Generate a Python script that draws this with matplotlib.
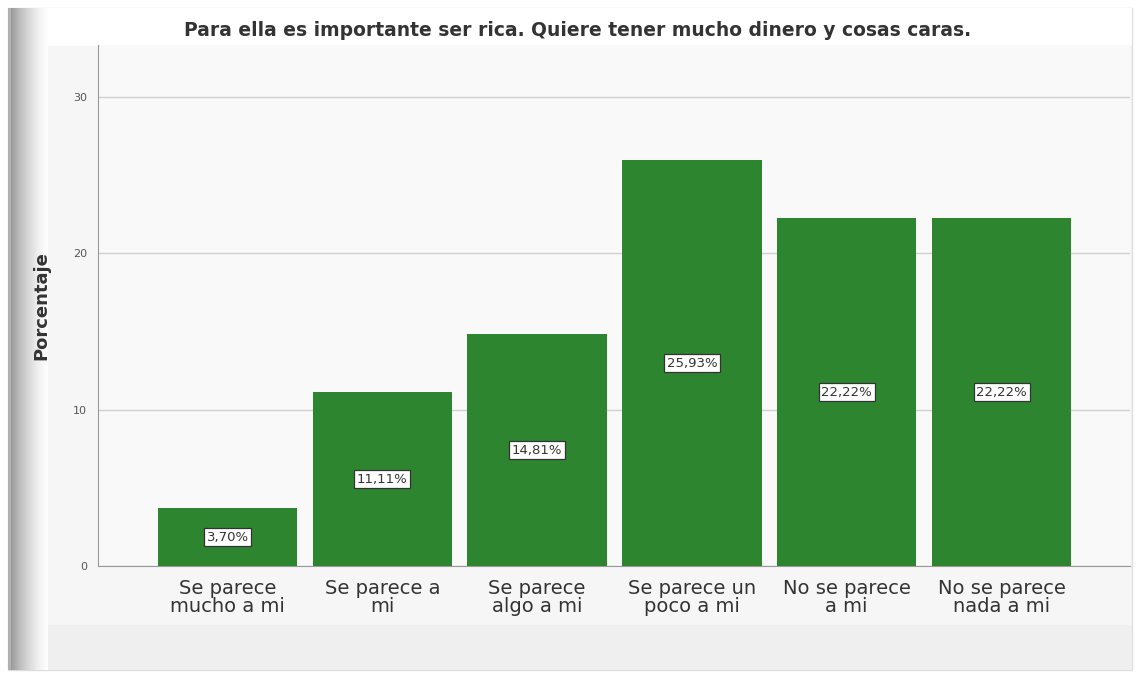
import numpy as np
import matplotlib.pyplot as plt
from matplotlib.patches import Rectangle

categorias = ["Se parece\nmucho a mi", "Se parece a\nmi", "Se parece\nalgo a mi",
              "Se parece un\npoco a mi", "No se parece\na mi", "No se parece\nnada a mi"]
porcentajes = [3.70, 11.11, 14.81, 25.93, 22.22, 22.22]
etiquetas = ["3,70%", "11,11%", "14,81%", "25,93%", "22,22%", "22,22%"]
ticks_y = [0, 10, 20, 30]

fig = plt.figure(figsize=(11.4, 6.79), dpi=100, facecolor="white")

# marco con sombra a la izquierda
fondo = fig.add_axes([0, 0, 1, 1], zorder=-10)
fondo.set_xlim(0, 1140)
fondo.set_ylim(679, 0)
fondo.axis("off")
fondo.add_patch(Rectangle((8, 8), 1124, 662, facecolor="#f6f6f6", edgecolor="#dddddd", lw=1, zorder=1))
grad = np.linspace(0, 1, 60).reshape(1, -1)
fondo.imshow(grad, extent=(10, 48, 670, 8), cmap="Greys_r", vmin=-1.0, vmax=1.0,
             aspect="auto", zorder=2)
fondo.add_patch(Rectangle((8, 8), 3, 662, facecolor="#b0b0b0", edgecolor="none", zorder=3))
fondo.add_patch(Rectangle((48, 8), 1084, 38, facecolor="white", edgecolor="none", zorder=3))
fondo.add_patch(Rectangle((48, 625), 1084, 45, facecolor="#efefef", edgecolor="none", zorder=3))

ax = fig.add_axes([98 / 1140, 1 - 566 / 679, (1130 - 98) / 1140, (566 - 45) / 679])
ax.set_facecolor("#f9f9f9")
x = np.arange(len(categorias))
barras = ax.bar(x, porcentajes, width=0.9, color="#2e8530", zorder=3)
for xi, v, et in zip(x, porcentajes, etiquetas):
    ax.text(xi, v / 2, et, ha="center", va="center", fontsize=9.5, color="#333333", zorder=4,
            bbox=dict(boxstyle="square,pad=0.2", facecolor="white", edgecolor="#333333", lw=0.9))

ax.set_xlim(-0.837, 5.83)
ax.set_ylim(0, 33.3)
ax.set_yticks(ticks_y)
ax.set_yticklabels([str(t) for t in ticks_y], fontsize=8, color="#555555")
ax.set_xticks(x)
ax.set_xticklabels(categorias, fontsize=14, color="#333333", linespacing=0.95)
ax.tick_params(axis="both", length=0, pad=8)
ax.tick_params(axis="x", pad=9)
ax.grid(axis="y", color="#d0d0d0", lw=1, zorder=0)
for s in ["top", "right"]:
    ax.spines[s].set_visible(False)
ax.spines["left"].set_color("#999999")
ax.spines["bottom"].set_color("#999999")

ax.set_ylabel("Porcentaje", fontsize=13, fontweight="bold", color="#333333", labelpad=16)
fig.text(578 / 1140, 1 - 31 / 679, "Para ella es importante ser rica. Quiere tener mucho dinero y cosas caras.",
         ha="center", va="center", fontsize=13.5, fontweight="bold", color="#333333")

fig.savefig("out.png", dpi=100, facecolor="white")
